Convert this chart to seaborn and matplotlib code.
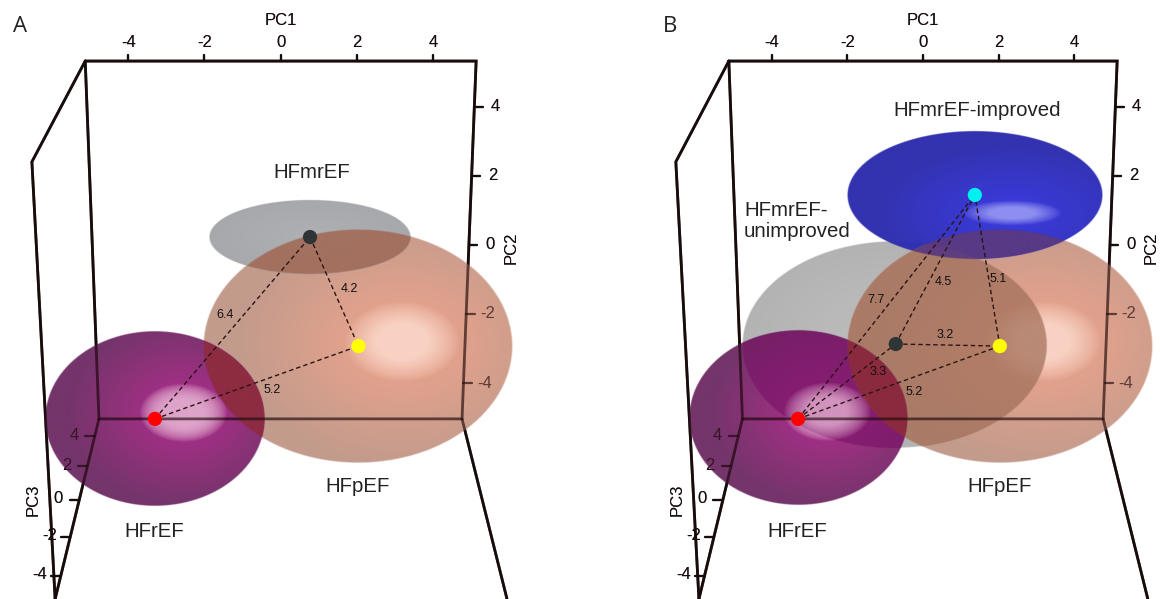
import matplotlib.colors as mcolors
import matplotlib.pyplot as plt
import numpy as np
import pandas as pd
import seaborn as sns

# box edges, shared by both panels (PC1, PC2 as seen on the page)
FRONT_X = [-5.13, 5.13, 4.76, -4.77, -5.13]
FRONT_Y = [5.33, 5.33, -5.04, -5.04, 5.33]
SIDE_X = [-5.13, -6.53, -5.92]
SIDE_Y = [5.33, 2.41, -10.26]
PC3_AXIS_X = [-4.77, -5.92]
PC3_AXIS_Y = [-5.04, -10.26]
RIGHT_X = [4.76, 5.94]
RIGHT_Y = [-5.04, -10.26]

PC1_TICKS = [-4, -2, 0, 2, 4]
PC2_TICKS = [4, 2, 0, -2, -4]
PC3_TICKS = [4, 2, 0, -2, -4]
PC3_TICK_Y = [-5.54, -6.41, -7.39, -8.45, -9.59]

# spheres, back to front
A_NAMES = ["HFpEF", "HFmrEF", "HFrEF"]
A_CX = [2.04, 0.77, -3.30]
A_CY = [-2.93, 0.23, -5.04]
A_W = [8.14, 5.30, 5.77]
A_H = [6.78, 2.14, 5.07]

B_NAMES = ["HFmrEF-unimproved", "HFpEF", "HFmrEF-improved", "HFrEF"]
B_CX = [-0.75, 2.03, 1.37, -3.30]
B_CY = [-2.90, -2.93, 1.45, -5.01]
B_W = [8.08, 8.08, 6.76, 5.79]
B_H = [6.00, 6.78, 3.71, 5.07]

SPHERE_EDGE = {"HFpEF": "#c09686", "HFmrEF": "#a2a4a7", "HFmrEF-unimproved": "#aeaeae",
               "HFmrEF-improved": "#2c2cae", "HFrEF": "#6e2c64"}
SPHERE_CORE = {"HFpEF": "#f0a086", "HFmrEF": "#aaacaf", "HFmrEF-unimproved": "#bcbcbc",
               "HFmrEF-improved": "#3434e0", "HFrEF": "#b0228a"}
SPHERE_ALPHA = {"HFpEF": 0.95, "HFmrEF": 0.95, "HFmrEF-unimproved": 0.95,
                "HFmrEF-improved": 0.97, "HFrEF": 0.96}
# highlight: x offset, y offset, width, height, colour, strength
SPHERE_SHINE = {"HFpEF": (1.16, 0.13, 3.0, 2.3, "#fbd8ca", 0.85),
                "HFmrEF": (0, 0, 0.1, 0.1, "#ffffff", 0.0),
                "HFmrEF-unimproved": (0, 0, 0.1, 0.1, "#ffffff", 0.0),
                "HFmrEF-improved": (0.98, -0.52, 2.6, 0.72, "#9a9af4", 0.85),
                "HFrEF": (0.75, 0.17, 2.3, 1.7, "#e0a8cc", 0.8)}

# tint where two spheres cross: sphere, sphere, colour, alpha
A_OVERLAPS = [("HFpEF", "HFmrEF", "#a36c59", 0.92), ("HFrEF", "HFpEF", "#8e2c3e", 0.92)]
B_OVERLAPS = [("HFmrEF-unimproved", "HFpEF", "#a2705a", 0.72),
              ("HFmrEF-improved", "HFpEF", "#5c3a80", 0.92),
              ("HFrEF", "HFmrEF-unimproved", "#7a1468", 0.62),
              ("HFrEF", "HFpEF", "#8c2a3c", 0.92)]

# centroids
POINT_NAMES = ["HFrEF", "HFpEF", "HFmrEF", "HFmrEF-improved"]
POINT_COLORS = {"HFrEF": "#ff0000", "HFpEF": "#ffff00", "HFmrEF": "#2f3436",
                "HFmrEF-improved": "#00f0f0"}
A_PC1 = [-3.30, 2.04, 0.77]
A_PC2 = [-5.04, -2.93, 0.23]
B_PC1 = [-3.30, 2.03, -0.72, 1.37]
B_PC2 = [-5.04, -2.93, -2.87, 1.45]

# pairs joined by dashed lines (index into the centroid lists)
A_PAIRS = [(0, 2), (2, 1), (0, 1)]
B_PAIRS = [(0, 3), (2, 3), (1, 3), (2, 1), (0, 2), (0, 1)]

A_DIST = ["6.4", "4.2", "5.2"]
A_DIST_X = [-1.46, 1.79, -0.23]
A_DIST_Y = [-2.03, -1.28, -4.20]
B_DIST = ["7.7", "4.5", "5.1", "3.2", "3.3", "5.2"]
B_DIST_X = [-1.24, 0.55, 1.98, 0.58, -1.19, -0.24]
B_DIST_Y = [-1.59, -1.07, -0.99, -2.61, -3.68, -4.26]

A_LABELS = ["HFmrEF", "HFpEF", "HFrEF"]
A_LABEL_X = [0.82, 2.03, -3.32]
A_LABEL_Y = [2.09, -7.01, -8.29]
B_LABELS = ["HFmrEF-improved", "HFpEF", "HFrEF"]
B_LABEL_X = [1.43, 2.03, -3.33]
B_LABEL_Y = [3.91, -7.01, -8.29]

YLIM = (-10.26, 7.10)
A_XLIM = (-7.367, 7.987)
B_XLIM = (-8.93, 6.526)


def ellipse_r(X, Y, cx, cy, w, h):
    return np.sqrt(((X - cx) / (w / 2)) ** 2 + ((Y - cy) / (h / 2)) ** 2)


def soft_edge(r):
    return np.clip((1 - r) / 0.008, 0, 1)


def shine_mask(X, Y, name, cx, cy):
    dx, dy, sw, sh, _, strength = SPHERE_SHINE[name]
    s = ellipse_r(X, Y, cx + dx, cy + dy, sw, sh)
    return np.clip((1 - s) / 0.55, 0, 1) ** 0.8 * strength


def show_rgba(ax, xs, ys, rgb, alpha, zorder):
    ax.imshow(
        np.dstack([rgb, alpha]),
        extent=(xs[0], xs[-1], ys[0], ys[-1]),
        origin="lower",
        aspect="auto",
        interpolation="bilinear",
        zorder=zorder,
    )


def draw_sphere(ax, name, cx, cy, w, h, zorder):
    """Shaded ellipse as an RGBA image, brightest around its highlight."""
    xs = np.linspace(cx - w / 2 - 0.05, cx + w / 2 + 0.05, 700)
    ys = np.linspace(cy - h / 2 - 0.05, cy + h / 2 + 0.05, 500)
    X, Y = np.meshgrid(xs, ys)
    r = ellipse_r(X, Y, cx, cy, w, h)

    edge = np.array(mcolors.to_rgb(SPHERE_EDGE[name]))
    core = np.array(mcolors.to_rgb(SPHERE_CORE[name]))
    dx, dy = SPHERE_SHINE[name][:2]
    d = ellipse_r(X, Y, cx + dx, cy + dy, w * 1.05, h * 1.05)
    t = np.clip(1 - d, 0, 1)[..., None]
    rgb = edge + (core - edge) * t

    shine = np.array(mcolors.to_rgb(SPHERE_SHINE[name][4]))
    m = shine_mask(X, Y, name, cx, cy)[..., None]
    rgb = rgb + (shine - rgb) * m
    show_rgba(ax, xs, ys, rgb, soft_edge(r) * SPHERE_ALPHA[name], zorder)


def draw_overlap(ax, xlim, first, second, color, alpha, zorder):
    """Flat tint on the region shared by two spheres."""
    xs = np.linspace(xlim[0], xlim[1], 1200)
    ys = np.linspace(YLIM[0], YLIM[1], 1200)
    X, Y = np.meshgrid(xs, ys)
    mask = soft_edge(ellipse_r(X, Y, *first)) * soft_edge(ellipse_r(X, Y, *second))
    rgb = np.ones(X.shape + (3,)) * np.array(mcolors.to_rgb(color))
    show_rgba(ax, xs, ys, rgb, mask * alpha, zorder)


def draw_box(ax, zorder, alpha, tint):
    """Box edges and the three sets of ticks."""
    line = dict(color=tint, linewidth=2, solid_joinstyle="miter", zorder=zorder, alpha=alpha)
    ax.plot(FRONT_X, FRONT_Y, **line)
    ax.plot(SIDE_X, SIDE_Y, **line)
    ax.plot(PC3_AXIS_X, PC3_AXIS_Y, **line)
    ax.plot(RIGHT_X, RIGHT_Y, **line)

    tick = dict(color=tint, linewidth=1.6, zorder=zorder, alpha=alpha)
    text = dict(fontsize=12, color=tint, ha="center", va="center", zorder=zorder, alpha=alpha)
    for v in PC1_TICKS:
        ax.plot([v, v], [5.33, 5.52], **tick)
        ax.text(v, 5.86, str(v), **text)
    for v in PC2_TICKS:
        x0 = np.interp(v, [-5.04, 5.33], [4.76, 5.13])
        ax.plot([x0, x0 + 0.22], [v, v], **tick)
        ax.text(x0 + 0.56, v, str(v), **text)
    for v, y in zip(PC3_TICKS, PC3_TICK_Y):
        x0 = np.interp(y, [-10.26, -5.04], [-5.92, -4.77])
        ax.plot([x0 - 0.25, x0], [y, y], **tick)
        ax.text(x0 - 0.55, y + 0.03, str(v), **text)

    ax.text(0, 6.50, "PC1", **text)
    ax.text(6.04, -0.08, "PC2", rotation=90, **text)
    ax.text(-6.5, -7.39, "PC3", rotation=90, **text)


def draw_panel(ax, xlim, names, cx, cy, w, h, overlaps, points, pc1, pc2, pairs):
    draw_box(ax, zorder=1, alpha=1.0, tint="#111111")
    geom = {n: (cx[i], cy[i], w[i], h[i]) for i, n in enumerate(names)}
    for i, name in enumerate(names):
        draw_sphere(ax, name, *geom[name], zorder=2 + i)

    for first, second, color, alpha in overlaps:
        draw_overlap(ax, xlim, geom[first], geom[second], color, alpha, zorder=6)

    # the highlight of the front sphere sits above every tint
    c = geom["HFrEF"]
    xs = np.linspace(c[0] - c[2] / 2, c[0] + c[2] / 2, 500)
    ys = np.linspace(c[1] - c[3] / 2, c[1] + c[3] / 2, 400)
    X, Y = np.meshgrid(xs, ys)
    rgb = np.ones(X.shape + (3,)) * np.array(mcolors.to_rgb(SPHERE_SHINE["HFrEF"][4]))
    show_rgba(ax, xs, ys, rgb, shine_mask(X, Y, "HFrEF", c[0], c[1]), zorder=7)

    # box seen through the spheres
    draw_box(ax, zorder=7, alpha=0.62, tint="#1c0808")

    for a, b in pairs:
        ax.plot([pc1[a], pc1[b]], [pc2[a], pc2[b]], color="#2a1414", linewidth=1.0,
                linestyle=(0, (3.2, 2.2)), zorder=8)

    df = pd.DataFrame({"PC1": pc1, "PC2": pc2, "group": points})
    sns.scatterplot(data=df, x="PC1", y="PC2", hue="group", palette=POINT_COLORS, s=105,
                    linewidth=0, legend=False, ax=ax, zorder=9)
    ax.set_xlim(xlim)
    ax.set_ylim(YLIM)
    ax.axis("off")


sns.set_theme(style="white")
plt.rcParams["font.family"] = ["Liberation Sans", "DejaVu Sans"]

fig = plt.figure(figsize=(11.7, 5.99), dpi=100)
ax_a = fig.add_axes([0, 0, 0.5, 1])
ax_b = fig.add_axes([0.5, 0, 0.5, 1])

draw_panel(ax_a, A_XLIM, A_NAMES, A_CX, A_CY, A_W, A_H, A_OVERLAPS,
           POINT_NAMES[:3], A_PC1, A_PC2, A_PAIRS)
draw_panel(ax_b, B_XLIM, B_NAMES, B_CX, B_CY, B_W, B_H, B_OVERLAPS,
           POINT_NAMES, B_PC1, B_PC2, B_PAIRS)

for ax, dist, dx, dy in [(ax_a, A_DIST, A_DIST_X, A_DIST_Y), (ax_b, B_DIST, B_DIST_X, B_DIST_Y)]:
    for t, x, y in zip(dist, dx, dy):
        ax.text(x, y, t, fontsize=9, color="#111111", ha="center", va="center", zorder=10)

for ax, labels, lx, ly in [(ax_a, A_LABELS, A_LABEL_X, A_LABEL_Y), (ax_b, B_LABELS, B_LABEL_X, B_LABEL_Y)]:
    for t, x, y in zip(labels, lx, ly):
        ax.text(x, y, t, fontsize=14.7, color="#222222", ha="center", va="center", zorder=10)
ax_b.text(-4.73, 0.70, "HFmrEF-\nunimproved", fontsize=14.7, color="#222222", ha="left", va="center",
          linespacing=1.15, zorder=10)

ax_a.text(-6.84, 6.32, "A", fontsize=16, color="#222222", ha="center", va="center",
          family=["Open Sans", "DejaVu Sans"])
ax_b.text(-6.68, 6.32, "B", fontsize=16, color="#222222", ha="center", va="center",
          family=["Open Sans", "DejaVu Sans"])

plt.savefig("out.png", dpi=100)
plt.close()
